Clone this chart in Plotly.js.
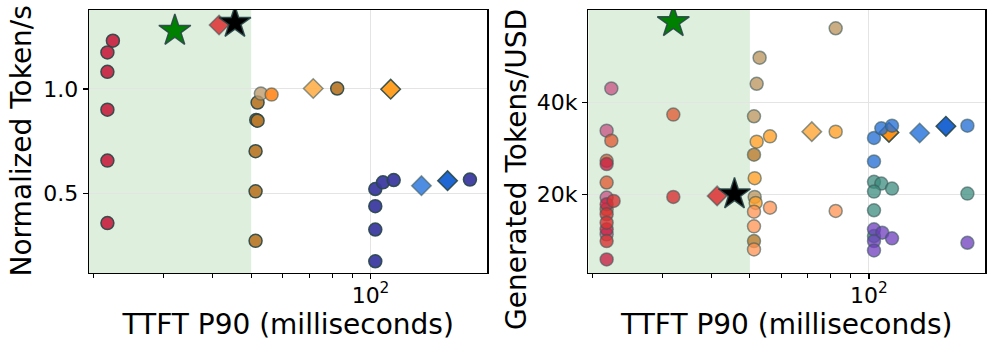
<!DOCTYPE html>
<html>
<head>
<meta charset="utf-8">
<script src="https://cdn.plot.ly/plotly-3.0.1.min.js"></script>
<style>
  html, body { margin: 0; padding: 0; background: #fff; }
  #chart { width: 996px; height: 349px; }
</style>
</head>
<body>
<div id="chart"></div>
<script>
// left panel: TTFT P90 (ms) vs normalized token/s
const leftTTFT  = [22.4, 21.7, 21.7, 21.7, 21.7, 21.7,
                   51.9, 51.5, 51.9, 51.3, 51.3, 51.3, 82.4,
                   52.9, 56.3, 71.7, 112.4,
                   102.8, 107.5, 114.4, 102.8, 102.8, 102.8, 178.1,
                   134.4, 156.4, 41.5, 32.1, 45.5];
const leftTput  = [1.231, 1.175, 1.082, 0.901, 0.657, 0.358,
                   0.935, 0.852, 0.848, 0.702, 0.510, 0.273, 1.002,
                   0.978, 0.973, 1.002, 0.999,
                   0.521, 0.553, 0.564, 0.439, 0.327, 0.175, 0.566,
                   0.537, 0.561, 1.306, 1.279, 1.317];
const leftGroup = ['crimson', 'crimson', 'crimson', 'crimson', 'crimson', 'crimson',
                   'brown', 'brown', 'brown', 'brown', 'brown', 'brown', 'brown',
                   'tan', 'orange', 'ltOrangeDia', 'orangeDia',
                   'slate', 'slate', 'slate', 'slate', 'slate', 'slate', 'slate',
                   'ltBlueDia', 'blueDia', 'redDia', 'greenStar', 'blackStar'];

// right panel: TTFT P90 (ms) vs generated tokens per USD
const rightTTFT  = [22.3, 21.7, 22.3, 21.7, 21.7, 21.7, 21.7, 22.6, 21.7, 21.7,
                    21.7, 21.7, 21.7, 21.7, 21.7, 21.7, 32.0, 32.0,
                    52.9, 52.0, 51.2, 51.4, 82.4,
                    52.0, 56.2, 51.4, 51.7, 82.4,
                    51.2, 51.2,
                    51.2, 56.2, 51.2, 51.2, 82.4,
                    71.7, 112.4,
                    103.0, 107.5, 114.4, 177.5, 103.0,
                    103.0, 107.5, 114.4, 103.0, 103.0, 103.0, 177.5,
                    103.0, 108.1, 114.4, 103.0, 103.0, 177.5,
                    134.4, 156.6, 41.3, 32.0, 45.7];
const rightTokUSD = [43070, 33870, 31680, 27290, 26570, 22540, 19260, 18540, 17810, 16710,
                     15620, 13780, 12330, 11240, 9770, 5760, 37370, 19410,
                     49790, 44100, 37000, 19410, 56210,
                     31460, 32620, 23500, 18090, 33650,
                     28610, 9770,
                     16190, 17060, 12990, 7950, 16340,
                     33650, 33490,
                     32270, 34370, 34960, 34960, 27140,
                     22690, 22320, 21230, 20570, 16490, 10870, 20130,
                     12330, 11590, 10360, 9770, 7730, 9400,
                     33360, 34810, 19630, 57590, 20000];
const rightGroup = ['pink', 'pink', 'orangeRed', 'orangeRed', 'crimson', 'orangeRed', 'pink', 'red', 'crimson', 'orangeRed',
                    'red', 'red', 'crimson', 'pink', 'red', 'crimson', 'orangeRed', 'red',
                    'tan', 'tan', 'tan', 'tan', 'tan',
                    'orange', 'orange', 'orange', 'orange', 'orange',
                    'brown', 'brown',
                    'ltOrange', 'ltOrange', 'ltOrange', 'ltOrange', 'ltOrange',
                    'ltOrangeDia', 'orangeDia',
                    'blue', 'blue', 'blue', 'blue', 'blue',
                    'teal', 'teal', 'teal', 'teal', 'teal', 'teal', 'teal',
                    'purple', 'purple', 'purple', 'purple', 'purple', 'purple',
                    'ltBlueDia', 'blueDia', 'redDia', 'greenStar', 'blackStar'];

const shadeEdge = 50;      // ms, green band
const xTicks = [100];
const xTickText = ['10<sup>2</sup>'];
const xMinor = [20, 30, 40, 50, 60, 70, 80, 90];
const leftYTicks = [0.5, 1.0];
const leftYText = ['0.5', '1.0'];
const rightYTicks = [20000, 40000];
const rightYText = ['20k', '40k'];

const EDGE = 'rgba(40,70,70,0.9)';
const EDGE_LT = 'rgba(60,90,90,0.6)';
const FONT = 'DejaVu Sans';

const leftStyle = {
    crimson:     { color: 'rgba(200,40,70,0.95)',  symbol: 'circle', size: 13, line: EDGE },
    brown:       { color: 'rgba(185,122,45,0.95)', symbol: 'circle', size: 13, line: EDGE },
    tan:         { color: 'rgba(190,155,110,0.8)', symbol: 'circle', size: 13, line: EDGE_LT },
    orange:      { color: 'rgba(255,135,30,0.9)',  symbol: 'circle', size: 13, line: EDGE_LT },
    ltOrangeDia: { color: 'rgba(255,175,75,0.9)',  symbol: 'diamond', size: 15, line: EDGE_LT },
    orangeDia:   { color: 'rgba(255,155,25,0.95)', symbol: 'diamond', size: 15, line: EDGE },
    slate:       { color: 'rgba(60,58,160,0.95)',  symbol: 'circle', size: 13, line: EDGE },
    ltBlueDia:   { color: 'rgba(70,135,225,0.95)', symbol: 'diamond', size: 15, line: EDGE_LT },
    blueDia:     { color: 'rgba(20,95,210,0.95)',  symbol: 'diamond', size: 15, line: EDGE },
    redDia:      { color: 'rgba(220,65,65,0.95)',  symbol: 'diamond', size: 15, line: EDGE_LT },
    greenStar:   { color: 'rgb(0,128,0)',          symbol: 'star', size: 24, line: EDGE },
    blackStar:   { color: 'rgb(0,0,0)',            symbol: 'star', size: 24, line: EDGE }
};

const rightStyle = {
    pink:        { color: 'rgba(200,80,130,0.75)', symbol: 'circle', size: 13, line: EDGE_LT },
    orangeRed:   { color: 'rgba(225,85,45,0.75)',  symbol: 'circle', size: 13, line: EDGE_LT },
    crimson:     { color: 'rgba(200,35,70,0.8)',   symbol: 'circle', size: 13, line: EDGE_LT },
    red:         { color: 'rgba(215,50,50,0.8)',   symbol: 'circle', size: 13, line: EDGE_LT },
    tan:         { color: 'rgba(185,145,90,0.75)', symbol: 'circle', size: 13, line: EDGE_LT },
    orange:      { color: 'rgba(255,160,40,0.8)',  symbol: 'circle', size: 13, line: EDGE_LT },
    brown:       { color: 'rgba(180,120,40,0.8)',  symbol: 'circle', size: 13, line: EDGE_LT },
    ltOrange:    { color: 'rgba(255,145,80,0.75)', symbol: 'circle', size: 13, line: EDGE_LT },
    ltOrangeDia: { color: 'rgba(255,175,75,0.9)',  symbol: 'diamond', size: 15, line: EDGE_LT },
    orangeDia:   { color: 'rgba(255,140,10,0.95)', symbol: 'diamond', size: 15, line: EDGE },
    blue:        { color: 'rgba(45,115,215,0.8)',  symbol: 'circle', size: 13, line: EDGE_LT },
    teal:        { color: 'rgba(60,140,125,0.75)', symbol: 'circle', size: 13, line: EDGE_LT },
    purple:      { color: 'rgba(110,60,190,0.75)', symbol: 'circle', size: 13, line: EDGE_LT },
    ltBlueDia:   { color: 'rgba(70,135,225,0.95)', symbol: 'diamond', size: 15, line: EDGE_LT },
    blueDia:     { color: 'rgba(20,95,210,0.95)',  symbol: 'diamond', size: 15, line: EDGE },
    redDia:      { color: 'rgba(220,65,65,0.95)',  symbol: 'diamond', size: 15, line: EDGE_LT },
    greenStar:   { color: 'rgb(0,128,0)',          symbol: 'star', size: 24, line: EDGE },
    blackStar:   { color: 'rgb(0,0,0)',            symbol: 'star', size: 24, line: EDGE }
};

function groupTraces(xs, ys, groups, styles, xa, ya) {
    const order = [];
    groups.forEach(g => { if (!order.includes(g)) order.push(g); });
    return order.map(g => {
        const idx = groups.map((v, i) => v === g ? i : -1).filter(i => i >= 0);
        const st = styles[g];
        return {
            x: idx.map(i => xs[i]), y: idx.map(i => ys[i]),
            type: 'scatter', mode: 'markers', xaxis: xa, yaxis: ya,
            showlegend: false, hoverinfo: 'skip',
            marker: { color: st.color, symbol: st.symbol, size: st.size,
                      line: { color: st.line, width: 1.5 } }
        };
    });
}

const traces = [
    ...groupTraces(leftTTFT, leftTput, leftGroup, leftStyle, 'x', 'y'),
    ...groupTraces(rightTTFT, rightTokUSD, rightGroup, rightStyle, 'x2', 'y2')
];

const xLo = 19.5, xHi = 197;

function xAxis(domain, anchor) {
    return {
        type: 'log', domain: domain, anchor: anchor,
        range: [Math.log10(xLo), Math.log10(xHi)],
        tickmode: 'array', tickvals: xTicks, ticktext: xTickText,
        ticks: 'outside', ticklen: 5, tickwidth: 1.2, tickcolor: '#000',
        ticklabelstandoff: -3,
        tickfont: { family: FONT, size: 22, color: '#000' },
        showgrid: true, gridcolor: '#e4e4e4', gridwidth: 1,
        showline: true, mirror: true, linecolor: '#000', linewidth: 1.3,
        zeroline: false, automargin: false,
        minor: { tickmode: 'array', tickvals: xMinor, ticks: 'outside', ticklen: 3.5,
                 tickwidth: 1, tickcolor: '#000', showgrid: false },
        title: { text: 'TTFT P90 (milliseconds)', standoff: 3,
                 font: { family: FONT, size: 28, color: '#000' } }
    };
}

function yAxis(range, vals, text, anchor) {
    return {
        range: range, anchor: anchor, domain: [0, 1],
        tickmode: 'array', tickvals: vals, ticktext: text,
        ticks: 'outside', ticklen: 5, tickwidth: 1.2, tickcolor: '#000',
        tickfont: { family: FONT, size: 22, color: '#000' },
        showgrid: true, gridcolor: '#e4e4e4', gridwidth: 1,
        showline: true, mirror: true, linecolor: '#000', linewidth: 1.3,
        zeroline: false, automargin: false
    };
}

const layout = {
    width: 996, height: 349,
    margin: { l: 89, r: 10, t: 10, b: 76 },
    paper_bgcolor: '#fff', plot_bgcolor: '#fff',
    font: { family: FONT, color: '#000' },
    showlegend: false,
    xaxis:  xAxis([0, 0.44404], 'y'),
    xaxis2: xAxis([0.55663, 0.99922], 'y2'),
    yaxis:  yAxis([0.119, 1.378], leftYTicks, leftYText, 'x'),
    yaxis2: yAxis([2800, 60200], rightYTicks, rightYText, 'x2'),
    shapes: [
        { type: 'rect', xref: 'x', yref: 'y domain', x0: xLo, x1: shadeEdge, y0: 0, y1: 1,
          fillcolor: 'rgba(0,128,0,0.13)', line: { width: 0 }, layer: 'below' },
        { type: 'rect', xref: 'x2', yref: 'y2 domain', x0: xLo, x1: shadeEdge, y0: 0, y1: 1,
          fillcolor: 'rgba(0,128,0,0.13)', line: { width: 0 }, layer: 'below' }
    ],
    annotations: [
        { text: 'Normalized Token/s', textangle: -90, xref: 'paper', yref: 'paper',
          x: -0.0747, y: -0.019, xanchor: 'center', yanchor: 'bottom', showarrow: false,
          font: { family: FONT, size: 28, color: '#000' } },
        { text: 'Generated Tokens/USD', textangle: -90, xref: 'paper', yref: 'paper',
          x: 0.4772, y: -0.226, xanchor: 'center', yanchor: 'bottom', showarrow: false,
          font: { family: FONT, size: 28, color: '#000' } }
    ]
};

Plotly.newPlot('chart', traces, layout, { displayModeBar: false, staticPlot: true });
</script>
</body>
</html>
